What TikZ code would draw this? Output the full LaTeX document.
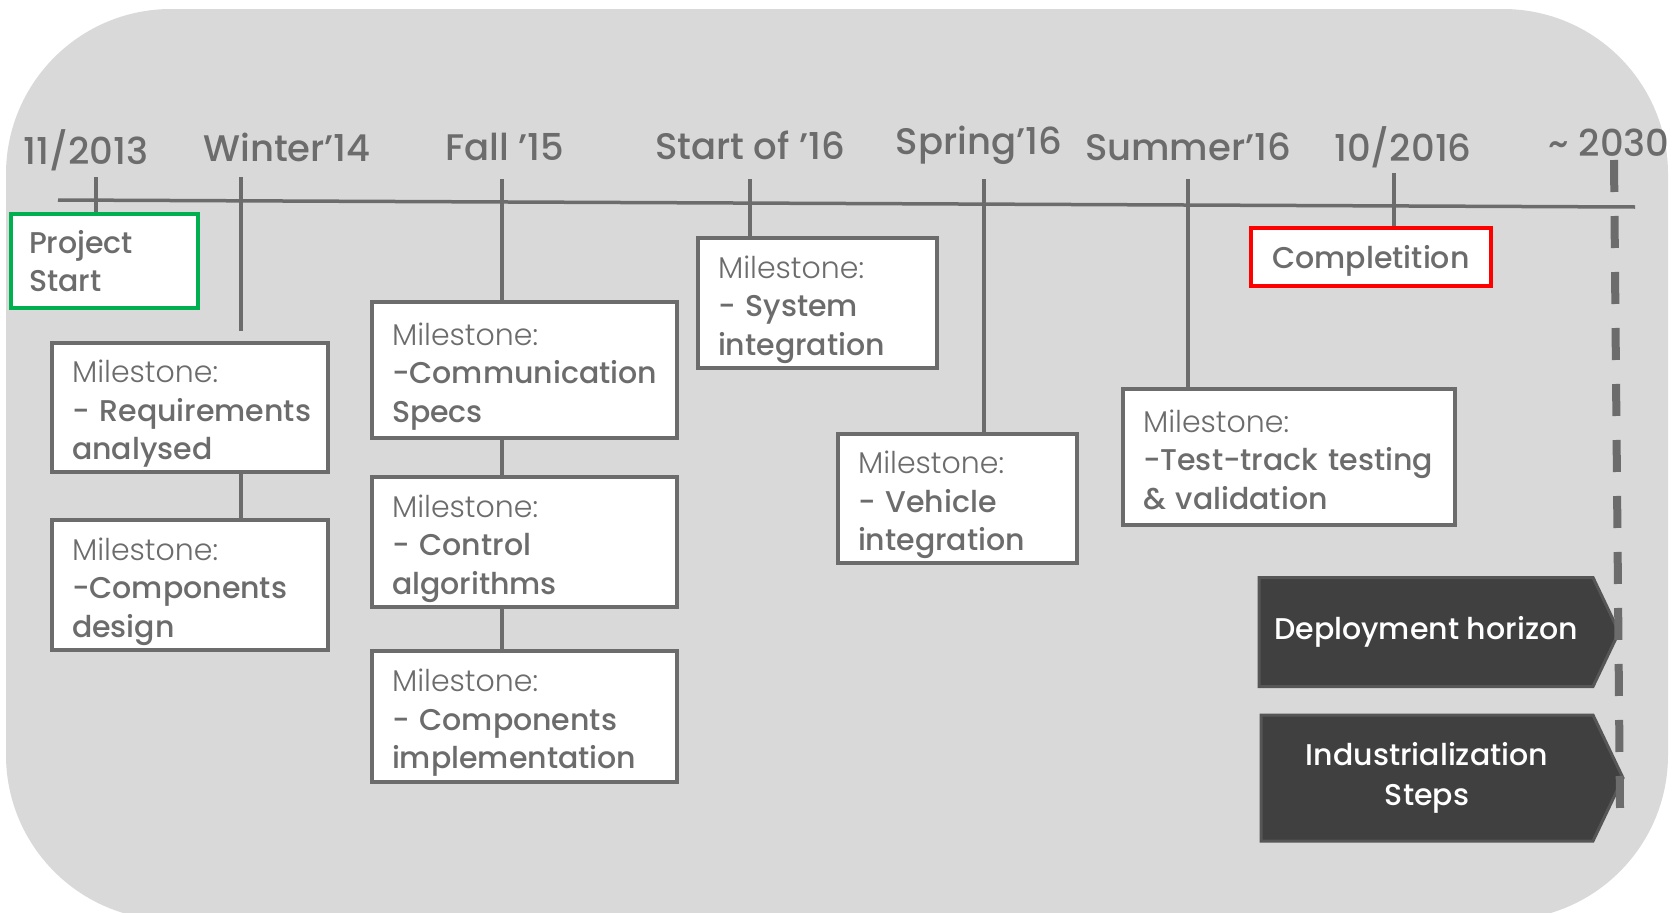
\documentclass[tikz,border=0pt]{standalone}
\usepackage{fontspec}
\setmainfont{Poppins}
\newfontfamily\lightfont{Poppins Light}
\newfontfamily\medfont{Poppins Medium}
\usepackage{tikz}
\usetikzlibrary{positioning,shapes.symbols}
\definecolor{tlgray}{RGB}{108,108,108}
\definecolor{bggray}{RGB}{217,217,217}
\definecolor{darkbox}{RGB}{64,64,64}
\definecolor{startgreen}{RGB}{0,176,80}
\definecolor{endred}{RGB}{255,0,0}
% three lines of a milestone box, with fixed top and bottom
\newcommand{\mstext}[2]{{\lightfont\rule{0pt}{36pt}Milestone:}\\\mbox{#1}\\\mbox{#2}\rule[-8.6pt]{0pt}{0pt}}

\begin{document}
\begin{tikzpicture}[x=1pt, y=-1pt,
    datelbl/.style={font=\medfont\fontsize{37}{44}\selectfont, text=tlgray, inner sep=0pt},
    mbox/.style={rectangle, draw=tlgray, line width=3.5pt, fill=white, text=tlgray, align=left, inner xsep=20pt, inner ysep=0pt, font=\medfont\fontsize{30}{38.5}\selectfont},
    tick/.style={draw=tlgray, line width=3.5pt},
    phase/.style={signal, signal to=east, signal pointer angle=129, fill=darkbox, draw=tlgray!80!black, line width=3pt, text=white, align=center, font=\medfont\fontsize{30}{40}\selectfont}
]
\useasboundingbox (0,0) rectangle (1679,913);

% Background
\fill[bggray, rounded corners=165pt] (6,9) rectangle (1668,920);

% Time axis
\coordinate (axL) at (58,200);
\coordinate (axR) at (1635,207);
\draw[tick] (axL) -- (axR);

% Dates
\node[datelbl] (d1) at (86,150) {11/2013};
\node[datelbl] (d2) at (287,147) {Winter’14};
\node[datelbl] (d3) at (505,147) {Fall ’15};
\node[datelbl] (d4) at (750,145) {Start of ’16};
\node[datelbl] (d5) at (979,145) {Spring’16};
\node[datelbl] (d6) at (1188,147) {Summer’16};
\node[datelbl] (d7) at (1403,147) {10/2016};
\node[datelbl] (d8) at (1609,143) {\textasciitilde{} 2030};

% Tick tops
\coordinate (t1) at (96,177);
\coordinate (t2) at (241,177);
\coordinate (t3) at (502,179);
\coordinate (t4) at (750,179);
\coordinate (t5) at (984,179);
\coordinate (t6) at (1188,179);
\coordinate (t7) at (1394,173);

% Start and end
\node[mbox, draw=startgreen, inner xsep=18pt, text width=151pt, minimum height=94pt] (start) at (104.5,261) {Project\\Start};
\node[mbox, draw=endred, minimum width=240pt, minimum height=58pt, text depth=0pt] (compl) at (1371,257) {Completition};

% Milestones
\node[mbox, text width=236pt, minimum height=129pt] (req) at (190,407.5) {\mstext{- Requirements}{analysed}};
\node[mbox, text width=236pt, minimum height=130pt] (cdes) at (190,585) {\mstext{-Components}{design}};
\node[mbox, text width=265pt, minimum height=136pt] (comm) at (524.5,370) {\mstext{-Communication}{Specs}};
\node[mbox, text width=265pt, minimum height=130pt] (ctrl) at (524.5,542) {\mstext{- Control}{algorithms}};
\node[mbox, text width=265pt, minimum height=131pt] (impl) at (524.5,716.5) {\mstext{- Components}{implementation}};
\node[mbox, text width=199pt, minimum height=130pt] (sys) at (817.5,303) {\mstext{- System}{integration}};
\node[mbox, text width=199pt, minimum height=129pt] (veh) at (957.5,498.5) {\mstext{- Vehicle}{integration}};
\node[mbox, text width=292pt, minimum height=136pt] (test) at (1289,457) {\mstext{-Test-track testing}{\& validation}};

% Phases
\node[phase, minimum width=360pt, minimum height=109pt] (dep) at (1426,632) {Deployment horizon};
\node[phase, minimum width=362pt, minimum height=126pt] (ind) at (1427,778) {Industrialization\\Steps};

% Ticks down to the boxes
\draw[tick] (t1) -- (t1 |- start.north);
\draw[tick, shorten >=10pt] (t2) -- (t2 |- req.north);
\draw[tick] (req.south -| t2) -- (cdes.north -| t2);
\draw[tick] (t3) -- (t3 |- comm.north);
\draw[tick] (comm.south -| t3) -- (ctrl.north -| t3);
\draw[tick] (ctrl.south -| t3) -- (impl.north -| t3);
\draw[tick] (t4) -- (t4 |- sys.north);
\draw[tick] (t5) -- (t5 |- veh.north);
\draw[tick] (t6) -- (t6 |- test.north);
\draw[tick] (t7) -- (t7 |- compl.north);

% Horizon
\coordinate (hz1) at (1614,160);
\coordinate (hz2) at (1620,808);
\draw[tlgray, line width=8pt, dash pattern=on 32pt off 24pt] (hz1) -- (hz2);

\end{tikzpicture}
\end{document}
